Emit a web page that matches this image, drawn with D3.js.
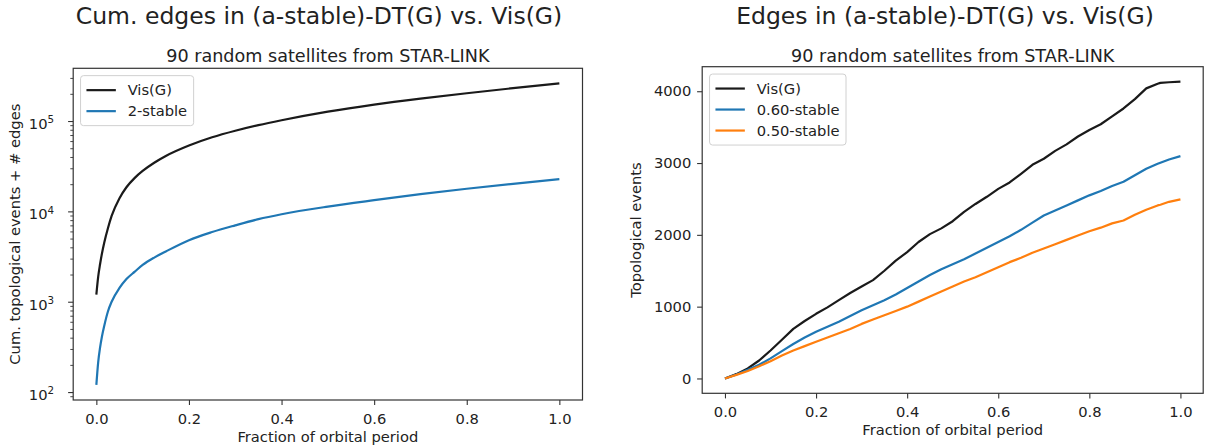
<!DOCTYPE html>
<html>
<head>
<meta charset="utf-8">
<script src="https://cdn.jsdelivr.net/npm/d3@7"></script>
<style>
  html, body { margin: 0; padding: 0; background: #fff; }
  svg { display: block; font-family: "DejaVu Sans", sans-serif; }
</style>
</head>
<body>
<div id="chart"></div>
<script>
// Left panel: cumulative counts (log scale)
const cumFraction = [0, 0.004, 0.008, 0.012, 0.017, 0.025, 0.033, 0.05, 0.065, 0.083, 0.1, 0.125, 0.15,
  0.2, 0.25, 0.3, 0.35, 0.4, 0.5, 0.6, 0.7, 0.8, 0.9, 1.0];
const cumVis = [1200, 1900, 2600, 3400, 4500, 6500, 8900, 14000, 18500, 23500, 28000, 34500, 41000,
  53500, 66000, 78000, 90000, 102000, 127000, 152000, 177000, 203000, 231000, 261000];
const cumStable2 = [120, 215, 310, 410, 540, 780, 1000, 1420, 1780, 2150, 2550, 3080, 3600,
  4800, 5900, 7000, 8200, 9300, 11300, 13300, 15500, 17800, 20200, 22700];

// Right panel: topological events per series
const evFraction = [0, 0.025, 0.05, 0.075, 0.1, 0.125, 0.15, 0.175, 0.2, 0.225, 0.25, 0.275, 0.3, 0.325,
  0.35, 0.375, 0.4, 0.425, 0.45, 0.475, 0.5, 0.525, 0.55, 0.575, 0.6, 0.625, 0.65, 0.675, 0.7, 0.725,
  0.75, 0.775, 0.8, 0.825, 0.85, 0.875, 0.9, 0.925, 0.95, 0.956, 0.975, 1.0];
const evVis = [0, 60, 140, 250, 390, 540, 690, 800, 900, 990, 1090, 1190, 1280, 1370,
  1500, 1640, 1760, 1900, 2010, 2090, 2190, 2320, 2430, 2530, 2640, 2730, 2850, 2975, 3060, 3170,
  3260, 3370, 3460, 3540, 3650, 3760, 3890, 4040, 4105, 4117, 4125, 4135];
const evStable060 = [0, 55, 120, 190, 280, 380, 480, 570, 650, 720, 790, 870, 950, 1020,
  1090, 1170, 1260, 1350, 1440, 1520, 1590, 1660, 1740, 1820, 1900, 1980, 2070, 2170, 2270, 2340,
  2410, 2480, 2550, 2610, 2680, 2740, 2830, 2920, 2990, 3005, 3050, 3096];
const evStable050 = [0, 50, 105, 170, 240, 320, 390, 450, 510, 570, 630, 690, 760, 820,
  880, 940, 1000, 1070, 1140, 1210, 1280, 1350, 1410, 1480, 1550, 1620, 1680, 1750, 1810, 1870,
  1930, 1990, 2050, 2100, 2160, 2200, 2280, 2350, 2410, 2420, 2460, 2495];

const xTicks = [0, 0.2, 0.4, 0.6, 0.8, 1.0];
const logMajorTicks = [1e2, 1e3, 1e4, 1e5];
const linearYTicks = [0, 1000, 2000, 3000, 4000];

const BLACK = "#1a1a1a", BLUE = "#1f77b4", ORANGE = "#ff7f0e";
const FS = 14.7;          // base font (10pt)
const TEXT = "#222";

const svg = d3.select("#chart").append("svg")
  .attr("width", 1207).attr("height", 448);
svg.append("rect").attr("width", 1207).attr("height", 448).attr("fill", "#fff");

function pad(lo, hi) {
  const s = hi - lo;
  return [lo - 0.05 * s, hi + 0.05 * s];
}

function drawPanel(p) {
  const g = svg.append("g");
  const x = d3.scaleLinear().domain(pad(0, 1)).range([p.left, p.right]);
  const all = p.series.flatMap(s => s.values);
  let y;
  if (p.log) {
    const [lo, hi] = pad(Math.log10(d3.min(all)), Math.log10(d3.max(all)));
    y = d3.scaleLog().domain([10 ** lo, 10 ** hi]).range([p.bottom, p.top]);
  } else {
    y = d3.scaleLinear().domain(pad(d3.min(all), d3.max(all))).range([p.bottom, p.top]);
  }

  // x axis
  const xa = g.append("g").attr("transform", `translate(0,${p.bottom})`)
    .call(d3.axisBottom(x).tickValues(xTicks).tickFormat(d3.format(".1f"))
      .tickSize(5.1).tickPadding(8.6));
  // y axis
  const ya = g.append("g").attr("transform", `translate(${p.left},0)`);
  if (p.log) {
    ya.call(d3.axisLeft(y).tickValues(logMajorTicks).tickFormat(() => "10")
      .tickSize(5.1).tickPadding(14));
    ya.selectAll(".tick text").each(function(d) {
      d3.select(this).attr("dy", "0.5em")
        .append("tspan").attr("dy", "-0.55em").attr("font-size", FS * 0.7 + "px")
        .text(Math.round(Math.log10(d)));
    });
    // minor ticks between decades
    const minor = [];
    for (let k = 1; k <= 5; k++) for (let m = 2; m <= 9; m++) {
      const v = m * 10 ** k;
      if (v > y.domain()[0] && v < y.domain()[1]) minor.push(v);
    }
    g.append("g").attr("transform", `translate(${p.left},0)`)
      .call(d3.axisLeft(y).tickValues(minor).tickFormat("").tickSize(2.9))
      .call(a => a.select(".domain").remove())
      .selectAll("line").attr("stroke", "#333").attr("stroke-width", 0.9);
  } else {
    ya.call(d3.axisLeft(y).tickValues(linearYTicks).tickFormat(d3.format("d"))
      .tickSize(5.1).tickPadding(5.8));
  }
  [xa, ya].forEach(a => {
    a.select(".domain").remove();
    a.selectAll(".tick line").attr("stroke", "#333").attr("stroke-width", 1.1);
    a.selectAll("text").attr("font-size", FS + "px").attr("fill", TEXT)
      .attr("font-family", "DejaVu Sans");
  });

  // lines
  const line = d3.line()
    .x((d, i) => x(p.fractions[i]))
    .y(d => y(d))
    .curve(p.log ? d3.curveMonotoneX : d3.curveLinear);
  p.series.forEach(s => {
    g.append("path").attr("d", line(s.values))
      .attr("fill", "none").attr("stroke", s.color).attr("stroke-width", 2.2)
      .attr("stroke-linejoin", "round");
  });

  // spines
  g.append("rect").attr("x", p.left).attr("y", p.top)
    .attr("width", p.right - p.left).attr("height", p.bottom - p.top)
    .attr("fill", "none").attr("stroke", "#333").attr("stroke-width", 1.2);

  // titles and labels
  const cx = (p.left + p.right) / 2;
  g.append("text").attr("x", p.titleX).attr("y", 24).attr("text-anchor", "middle")
    .attr("font-size", "23.5px").attr("fill", TEXT).text(p.title);
  g.append("text").attr("x", cx).attr("y", 61.5).attr("text-anchor", "middle")
    .attr("font-size", "17.6px").attr("fill", TEXT).text(p.subtitle);
  g.append("text").attr("x", cx).attr("y", p.bottom + 41.5).attr("text-anchor", "middle")
    .attr("font-size", FS + "px").attr("fill", TEXT).text("Fraction of orbital period");
  g.append("text")
    .attr("transform", `translate(${p.ylabelX},${(p.top + p.bottom) / 2}) rotate(-90)`)
    .attr("text-anchor", "middle").attr("font-size", FS + "px").attr("fill", TEXT)
    .text(p.ylabel);

  // legend
  const lx = p.left + 7.35, ly = p.top + 7.35;
  const leg = g.append("g");
  const box = leg.append("rect").attr("x", lx).attr("y", ly).attr("rx", 3)
    .attr("height", 8 + 21 * p.series.length)
    .attr("fill", "#fff").attr("fill-opacity", 0.8).attr("stroke", "#d0d0d0").attr("stroke-width", 1);
  let maxW = 0;
  p.series.forEach((s, i) => {
    const cy = ly + 14.5 + i * 21;
    leg.append("line").attr("x1", lx + 5.9).attr("x2", lx + 35.3)
      .attr("y1", cy).attr("y2", cy).attr("stroke", s.color).attr("stroke-width", 2.2);
    const t = leg.append("text").attr("x", lx + 47.1).attr("y", cy + 5.2)
      .attr("font-size", FS + "px").attr("fill", TEXT).text(s.name);
    maxW = Math.max(maxW, t.node().getComputedTextLength());
  });
  box.attr("width", 47.1 + maxW + 6.5);
}

drawPanel({
  left: 73.2, right: 582.5, top: 68.3, bottom: 400, log: true,
  titleX: 319, ylabelX: 20,
  title: "Cum. edges in (a-stable)-DT(G) vs. Vis(G)",
  subtitle: "90 random satellites from STAR-LINK",
  ylabel: "Cum. topological events + # edges",
  fractions: cumFraction,
  series: [
    { name: "Vis(G)", values: cumVis, color: BLACK },
    { name: "2-stable", values: cumStable2, color: BLUE }
  ]
});

drawPanel({
  left: 702.2, right: 1203.2, top: 66.7, bottom: 393.3, log: false,
  titleX: 945, ylabelX: 641,
  title: "Edges in (a-stable)-DT(G) vs. Vis(G)",
  subtitle: "90 random satellites from STAR-LINK",
  ylabel: "Topological events",
  fractions: evFraction,
  series: [
    { name: "Vis(G)", values: evVis, color: BLACK },
    { name: "0.60-stable", values: evStable060, color: BLUE },
    { name: "0.50-stable", values: evStable050, color: ORANGE }
  ]
});
</script>
</body>
</html>
